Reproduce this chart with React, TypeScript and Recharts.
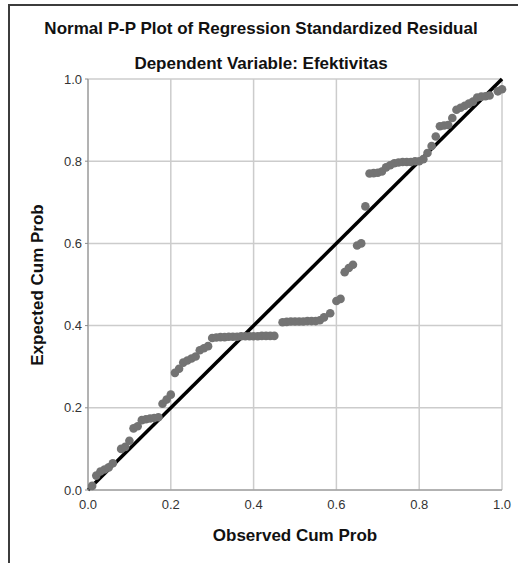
import { ScatterChart, Scatter, XAxis, YAxis, CartesianGrid, ReferenceLine } from 'recharts';

// observed vs expected cumulative probabilities
const observedCumProb = [
  0.01, 0.02, 0.03, 0.04, 0.05, 0.06,
  0.08, 0.09, 0.10, 0.11, 0.12,
  0.13, 0.14, 0.15, 0.16, 0.17,
  0.18, 0.19, 0.20, 0.21, 0.22,
  0.23, 0.24, 0.25, 0.26, 0.27, 0.28, 0.29,
  0.30, 0.31, 0.32, 0.33, 0.34, 0.35, 0.36, 0.37, 0.38, 0.39, 0.40, 0.41, 0.42, 0.43, 0.44, 0.45,
  0.47, 0.48, 0.49, 0.50, 0.51, 0.52, 0.53, 0.54, 0.55, 0.56, 0.57,
  0.585, 0.60, 0.61, 0.62, 0.63, 0.64, 0.65, 0.66, 0.67,
  0.68, 0.69, 0.70, 0.71,
  0.72, 0.73, 0.74, 0.75, 0.76, 0.77, 0.78, 0.79, 0.80, 0.81,
  0.82, 0.83, 0.84, 0.85, 0.86, 0.87, 0.88,
  0.89, 0.90, 0.91, 0.92, 0.93,
  0.94, 0.95, 0.96, 0.97, 0.99, 1.0,
];

const expectedCumProb = [
  0.01, 0.035, 0.045, 0.05, 0.055, 0.065,
  0.10, 0.105, 0.12, 0.15, 0.155,
  0.17, 0.172, 0.174, 0.175, 0.177,
  0.21, 0.22, 0.232, 0.285, 0.295,
  0.31, 0.315, 0.32, 0.325, 0.34, 0.345, 0.35,
  0.37, 0.371, 0.372, 0.372, 0.373, 0.373, 0.373, 0.374, 0.374, 0.374, 0.374, 0.374, 0.375, 0.375, 0.375, 0.375,
  0.408, 0.409, 0.41, 0.41, 0.41, 0.41, 0.411, 0.411, 0.411, 0.413, 0.42,
  0.43, 0.46, 0.465, 0.53, 0.54, 0.548, 0.595, 0.60, 0.69,
  0.77, 0.771, 0.772, 0.775,
  0.785, 0.79, 0.795, 0.797, 0.798, 0.798, 0.798, 0.80, 0.80, 0.805,
  0.82, 0.837, 0.86, 0.885, 0.887, 0.888, 0.905,
  0.925, 0.93, 0.935, 0.94, 0.945,
  0.955, 0.957, 0.958, 0.96, 0.97, 0.975,
];

const axisTicks = [0, 0.2, 0.4, 0.6, 0.8, 1.0];

const chartData = observedCumProb.map((x, i) => ({ observed: x, expected: expectedCumProb[i] }));

const font = '"Liberation Sans", Arial, sans-serif';

const Dot = (props: any) => {
  const { cx, cy } = props;
  if (cx == null || cy == null) return null;
  return <circle cx={cx} cy={cy} r={4.3} fill="#737373" />;
};

const App = () => {
  return (
    <div style={{ position: 'absolute', left: 0, top: 0, width: 518, height: 563, overflow: 'hidden', background: '#fff', fontFamily: font }}>
      <div style={{ position: 'absolute', left: 8, top: 4, width: 700, height: 700, borderLeft: '2px solid #3c3c3c', borderTop: '2px solid #3c3c3c' }} />

      <ScatterChart width={518} height={563} margin={{ top: 79, right: 16, bottom: 43, left: 48 }} style={{ position: 'absolute', left: 0, top: 0 }}>
        <CartesianGrid stroke="#cccccc" strokeWidth={1.5} />
        <XAxis
          type="number"
          dataKey="observed"
          domain={[0, 1]}
          ticks={axisTicks}
          height={30}
          interval={0}
          tickFormatter={(v: number) => v.toFixed(1)}
          tickLine={false}
          tickSize={0}
          tickMargin={10}
          stroke="#8c8c8c"
          tick={{ fill: '#333', fontSize: 13, fontFamily: font }}
        />
        <YAxis
          type="number"
          dataKey="expected"
          domain={[0, 1]}
          ticks={axisTicks}
          width={40}
          interval={0}
          tickFormatter={(v: number) => v.toFixed(1)}
          tickSize={3}
          tickMargin={3}
          stroke="#8c8c8c"
          tick={{ fill: '#333', fontSize: 13, fontFamily: font }}
        />
        <Scatter data={chartData} shape={<Dot />} isAnimationActive={false} />
        <ReferenceLine segment={[{ x: 0, y: 0 }, { x: 1, y: 1 }]} stroke="#000" strokeWidth={3.5} ifOverflow="visible" />
      </ScatterChart>

      <div style={{ position: 'absolute', left: 0, width: 522, top: 19, textAlign: 'center', fontSize: 17, fontWeight: 'bold', color: '#111' }}>
        Normal P-P Plot of Regression Standardized Residual
      </div>
      <div style={{ position: 'absolute', left: 0, width: 522, top: 54, textAlign: 'center', fontSize: 17, fontWeight: 'bold', color: '#111' }}>
        Dependent Variable: Efektivitas
      </div>
      <div style={{ position: 'absolute', left: 195, width: 200, top: 526, textAlign: 'center', fontSize: 17, fontWeight: 'bold', color: '#111' }}>
        Observed Cum Prob
      </div>
      <div style={{ position: 'absolute', left: 38 - 100, width: 200, top: 285 - 11, textAlign: 'center', fontSize: 17, fontWeight: 'bold', color: '#111', transform: 'rotate(-90deg)', lineHeight: '22px' }}>
        Expected Cum Prob
      </div>
    </div>
  );
};

export default App;
